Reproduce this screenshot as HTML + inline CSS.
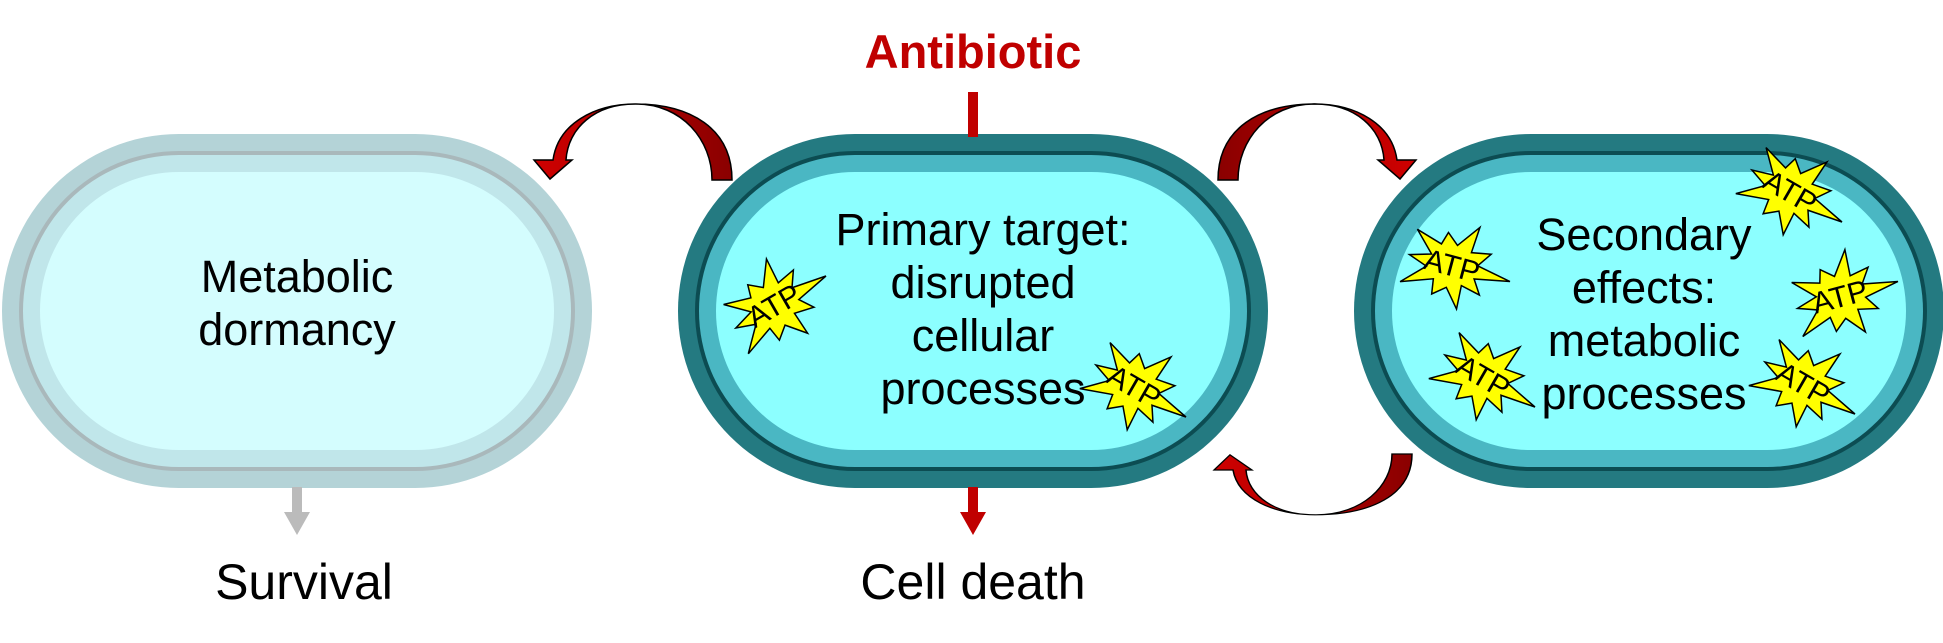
<!DOCTYPE html>
<html><head><meta charset="utf-8"><style>
body{margin:0;width:1943px;height:643px;background:#fff;position:relative;overflow:hidden;font-family:"Liberation Sans",Arial,sans-serif}
.cell{position:absolute;top:134px;width:590px;height:354px;box-sizing:border-box;border-radius:177px}
.l1{position:absolute;inset:0}
.txt{position:absolute;left:0;right:0;text-align:center;font-size:45px;line-height:53px;color:#000}
.lbl{position:absolute;font-size:50px;color:#000;text-align:center;width:400px}
svg{position:absolute;left:0;top:0}
</style></head><body>
<div class="cell" style="left:2px;background:#b4d3d7">
 <div class="l1" style="inset:17px;border-radius:160px;background:#a9b8bb"></div>
 <div class="l1" style="inset:21px;border-radius:156px;background:#c0e6ea"></div>
 <div class="l1" style="inset:38px;border-radius:139px;background:#d4fdfe"></div>
 <div class="txt" style="top:116px">Metabolic<br>dormancy</div>
</div>
<div class="cell" style="left:678px;background:#247a81">
 <div class="l1" style="inset:17px;border-radius:160px;background:#0c4c52"></div>
 <div class="l1" style="inset:21px;border-radius:156px;background:#4ab7c3"></div>
 <div class="l1" style="inset:38px;border-radius:139px;background:#8cffff"></div>
 <div class="txt" style="top:69px;left:20px">Primary target:<br>disrupted<br>cellular<br>processes</div>
</div>
<div class="cell" style="left:1354px;background:#247a81">
 <div class="l1" style="inset:17px;border-radius:160px;background:#0c4c52"></div>
 <div class="l1" style="inset:21px;border-radius:156px;background:#4ab7c3"></div>
 <div class="l1" style="inset:38px;border-radius:139px;background:#8cffff"></div>
 <div class="txt" style="top:74px;left:-10px">Secondary<br>effects:<br>metabolic<br>processes</div>
</div>
<div style="position:absolute;left:773px;width:400px;top:24px;text-align:center;font-size:47px;font-weight:bold;color:#c00000">Antibiotic</div>
<div class="lbl" style="left:104px;top:553px">Survival</div>
<div class="lbl" style="left:773px;top:553px">Cell death</div>
<svg width="1943" height="643">
 <defs><linearGradient id="rg" x1="0" x2="1"><stop offset="0" stop-color="#d00000"/><stop offset="1" stop-color="#8a0000"/></linearGradient></defs>
 <rect x="968" y="92" width="10" height="45" fill="#c00000"/>
 <path d="M968,487 h10 v25 h8 l-13,23 l-13,-23 h8z" fill="#c00000"/>
 <path d="M292,487 h10 v25 h8 l-13,23 l-13,-23 h8z" fill="#bbbbbb"/>
 <g>
  <path d="M732,180 C732,128 690,104 635,104 C595,104 568,128 566,160 L572,160 L550,179 L534,160 L553,160 C558,124 594,104 636,104 C682,104 712,140 712,180 Z" fill="url(#rg)" stroke="#000" stroke-width="1.5"/>
 </g>
 <g transform="translate(1950,0) scale(-1,1)">
  <path d="M732,180 C732,128 690,104 635,104 C595,104 568,128 566,160 L572,160 L550,179 L534,160 L553,160 C558,124 594,104 636,104 C682,104 712,140 712,180 Z" fill="url(#rg)" stroke="#000" stroke-width="1.5"/>
 </g>
 <g transform="translate(680,598) scale(1,-0.8)">
  <path d="M732,180 C732,128 690,104 635,104 C595,104 568,128 566,160 L572,160 L550,179 L534,160 L553,160 C558,124 594,104 636,104 C682,104 712,140 712,180 Z" fill="url(#rg)" stroke="#000" stroke-width="1.5"/>
 </g>
 <g id="atps"></g>
</svg>
<script>
const atpPos=[[774,306,-30],[1134,387,30],[1452,266,15],[1790,192,30],[1840,297,-15],[1483,377,30],[1803,384,30]];
const radii=[60,26,42,24,50,26,40,25,57,26,44,24,53,27,39,25,55,26,43,26];
const g=document.getElementById('atps');
const NS='http://www.w3.org/2000/svg';
atpPos.forEach(([cx,cy,rot])=>{
  const grp=document.createElementNS(NS,'g');
  
  
  grp.setAttribute('transform',`translate(${cx},${cy}) rotate(${rot})`);
  const pts=radii.map((r,i)=>{const a=i/radii.length*Math.PI*2;return (r*Math.cos(a)).toFixed(1)+','+(r*0.85*Math.sin(a)).toFixed(1)}).join(' ');
  const p=document.createElementNS(NS,'polygon');
  p.setAttribute('points',pts);p.setAttribute('fill','#ffff00');p.setAttribute('stroke','#000');p.setAttribute('stroke-width','1.5');
  grp.appendChild(p);
  const t=document.createElementNS(NS,'text');
  
  
  t.setAttribute('x','0');t.setAttribute('y','10');t.setAttribute('text-anchor','middle');
  t.setAttribute('font-family','Liberation Sans, Arial, sans-serif');t.setAttribute('font-size','30');
  t.textContent='ATP';grp.appendChild(t);
  g.appendChild(grp);
});
</script>
</body></html>
